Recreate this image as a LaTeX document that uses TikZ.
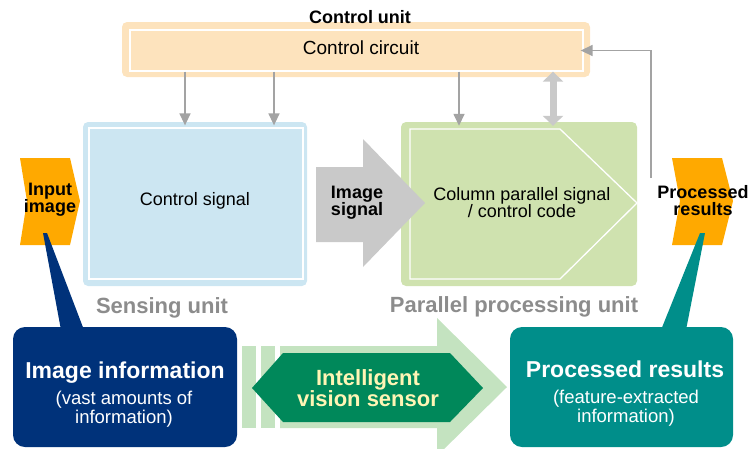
\documentclass[tikz,border=0pt]{standalone}
\usepackage{fontspec}
\setmainfont{Liberation Sans}
\usetikzlibrary{arrows.meta,calc}
\definecolor{ctrlfill}{HTML}{FDE3BD}
\definecolor{sensefill}{HTML}{CCE6F2}
\definecolor{procfill}{HTML}{CFE2AF}
\definecolor{linkgray}{HTML}{A3A3A3}
\definecolor{signalgray}{HTML}{C9C9C9}
\definecolor{labelgray}{HTML}{8C8C8C}
\definecolor{chevronorange}{HTML}{FFA900}
\definecolor{infonavy}{HTML}{00327A}
\definecolor{resultteal}{HTML}{008E8A}
\definecolor{flowgreen}{HTML}{C4E3C0}
\definecolor{sensorgreen}{HTML}{00885A}
\definecolor{sensortext}{HTML}{FFF5B5}
\begin{document}
\begin{tikzpicture}[x=1pt,y=-1pt,
  panel/.style={rounded corners=5pt, inner sep=0pt, draw=none},
  frameline/.style={draw=white, line width=1.3pt, inner sep=0pt},
  bubble/.style={rounded corners=12pt, inner sep=0pt, draw=none},
  link/.style={draw=linkgray, line width=1.5pt, -{Triangle[length=12pt,width=11pt]}},
  dbllink/.style={draw=signalgray, line width=7pt,
    {Triangle[length=10pt,width=20pt]}-{Triangle[length=10pt,width=20pt]}},
  txt/.style={inner sep=0pt, align=center, font=\fontsize{18}{17}\selectfont},
  btxt/.style={inner sep=0pt, align=center, font=\fontsize{18}{17}\selectfont\bfseries},
  unitlabel/.style={inner sep=0pt, anchor=base, text=labelgray, font=\fontsize{22}{24}\selectfont\bfseries},
  bigtxt/.style={inner sep=0pt, anchor=base, text=white, font=\fontsize{23}{25}\selectfont\bfseries},
  subtxt/.style={inner sep=0pt, align=center, text=white, font=\fontsize{18.5}{16}\selectfont}
]
\useasboundingbox (0,0) rectangle (754,448);
\begin{scope}
\clip (0,0) rectangle (754,448);

% control unit
\node[panel, fill=ctrlfill, minimum width=468pt, minimum height=55pt] (ctrl) at (356,49.5) {};
\node[frameline, minimum width=453pt, minimum height=41pt] (ctrlin) at (356.5,50.5) {};
\node[btxt] (ctrltitle) at (360,17) {Control unit};
\node[txt, font=\fontsize{19}{18}\selectfont] (ctrltext) at (361,48) {Control circuit};

% sensing unit
\node[panel, fill=sensefill, minimum width=224pt, minimum height=164pt] (sense) at (195,204) {};
\node[frameline, minimum width=214pt, minimum height=151pt] (sensein) at (196,203.5) {};
\node[txt] (sensetext) at (195,201) {Control signal};
\node[unitlabel] (senselabel) at (162,313) {Sensing unit};

% parallel processing unit
\node[panel, fill=procfill, minimum width=236pt, minimum height=164pt] (proc) at (519,204) {};
\draw[draw=white, line width=1.3pt] (410,129) -- (560,129) -- (637,203) -- (560,279) -- (410,279) -- cycle;
\node[txt] (proctext) at (522,203) {Column parallel signal\\/ control code};
\node[unitlabel] (proclabel) at (514,312) {Parallel processing unit};

% image signal arrow
\fill[signalgray] (316,167) -- (363,167) -- (363,139) -- (425,203) -- (363,267) -- (363,242) -- (316,242) -- cycle;
\node[btxt] (imgsig) at (357,203) {Image\\signal};

% control links
\coordinate (c1) at (185,0);
\coordinate (c2) at (274,0);
\coordinate (c3) at (459,0);
\coordinate (c4) at (553,0);
\draw[link, shorten >=2pt] (c1 |- ctrlin.south) -- (c1 |- sensein.north);
\draw[link, shorten >=2pt] (c2 |- ctrlin.south) -- (c2 |- sensein.north);
\draw[link, shorten >=-4pt] (c3 |- ctrlin.south) -- (c3 |- proc.north);
\draw[dbllink, shorten >=-4pt] (c4 |- ctrlin.south) -- (c4 |- proc.north);
\coordinate (fbstart) at (651,178);
\draw[link, shorten >=-3pt] (fbstart) |- (ctrlin.east);

% flow arrow of the sensor
\fill[flowgreen] (242,346) rectangle (256,428);
\fill[flowgreen] (261,346) rectangle (275,428);
\fill[flowgreen] (280,346) -- (437,346) -- (437,318) -- (507,387) -- (437,456) -- (437,428) -- (280,428) -- cycle;
\fill[sensorgreen] (252,388) -- (283,353) -- (450,353) -- (483,388) -- (450,422) -- (283,422) -- cycle;
\node[inner sep=0pt, align=center, text=sensortext, font=\fontsize{22}{19.5}\selectfont\bfseries] (sensor) at (368,388) {Intelligent\\vision sensor};

% input and output chevrons
\fill[chevronorange] (20,158) -- (70,158) -- (80,201) -- (70,245) -- (20,245) -- (27,201) -- cycle;
\fill[chevronorange] (672,158) -- (722,158) -- (733,201) -- (722,245) -- (672,245) -- (680,201) -- cycle;

% callout boxes
\node[bubble, fill=infonavy, minimum width=224pt, minimum height=120pt] (info) at (125,387) {};
\fill[infonavy] (43,233) -- (47,233) -- (84,330) -- (61,330) -- cycle;
\node[bubble, fill=resultteal, minimum width=223pt, minimum height=120pt] (result) at (621.5,387) {};
\fill[resultteal] (700,233) -- (705,233) -- (686,330) -- (661,330) -- cycle;

\node[btxt] (inimg) at (50,200) {Input\\image};
\node[btxt] (outres) at (703,201) {Processed\\results};

\node[bigtxt] (infotitle) at (125,378) {Image information};
\node[subtxt, anchor=base] (infosub) at (124,423) {(vast amounts of\\information)};
\node[bigtxt] (resulttitle) at (625,377) {Processed results};
\node[subtxt, anchor=base] (resultsub) at (626,422) {(feature-extracted\\information)};
\end{scope}
\end{tikzpicture}
\end{document}
